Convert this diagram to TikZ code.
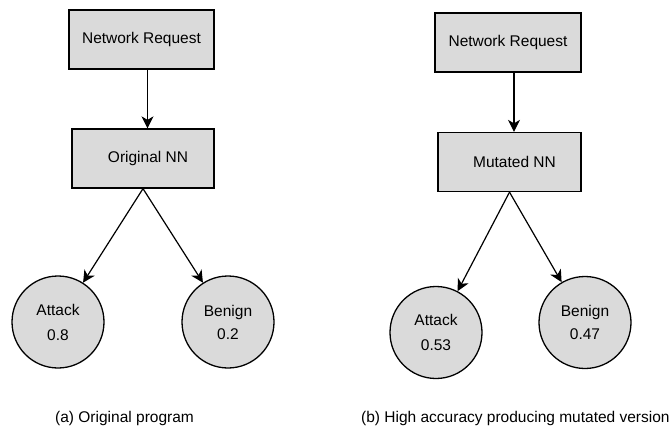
\documentclass[tikz,border=0pt]{standalone}
\usepackage{fontspec}
\setmainfont{Liberation Sans}
\usetikzlibrary{arrows.meta}
\definecolor{boxgray}{HTML}{DADADA}
\begin{document}
\begin{tikzpicture}[x=1pt,y=-1pt,
  every node/.style={font=\fontsize{15.5}{24}\selectfont},
  rectbox/.style={draw=black, line width=1.3pt, fill=boxgray, inner sep=0pt, minimum width=#1, minimum height=59pt},
  circnode/.style={draw=black, line width=1.3pt, fill=boxgray, circle, inner sep=0pt, minimum size=92pt, align=center},
  arr/.style={line width=1.2pt, -{Stealth[length=12pt,width=12pt,inset=3.5pt]}},
  caption/.style={anchor=west, inner sep=0pt}]
\useasboundingbox (0,0) rectangle (670,431);
% left panel
\node[rectbox=145pt] (nr1) at (141.5,39.5) {Network Request};
\node[rectbox=142pt] (on) at (143,158.5) {\hspace{10pt}Original NN};
\node[circnode] (att1) at (58,322) {Attack\\[1pt]0.8};
\node[circnode] (ben1) at (228,322) {Benign\\[-1pt]0.2};
\coordinate (ax1) at (147.5,0);
\draw[arr] (nr1.south -| ax1) -- (on.north -| ax1);
\draw[arr] (on.south) -- (att1);
\draw[arr] (on.south) -- (ben1);
\node[caption] (capa) at (55,418) {(a) Original program};
% right panel
\node[rectbox=146pt] (nr2) at (508,42.5) {Network Request};
\node[rectbox=143pt] (mn) at (509.5,162) {\hspace{10pt}Mutated NN};
\node[circnode] (att2) at (436,332.5) {Attack\\[1pt]0.53};
\node[circnode] (ben2) at (585,322.5) {Benign\\[-1pt]0.47};
\coordinate (ax2) at (514,0);
\draw[arr] (nr2.south -| ax2) -- (mn.north -| ax2);
\draw[arr] (mn.south) -- (att2);
\draw[arr] (mn.south) -- (ben2);
\node[caption] (capb) at (361,418) {(b) High accuracy producing mutated version};
\end{tikzpicture}
\end{document}
